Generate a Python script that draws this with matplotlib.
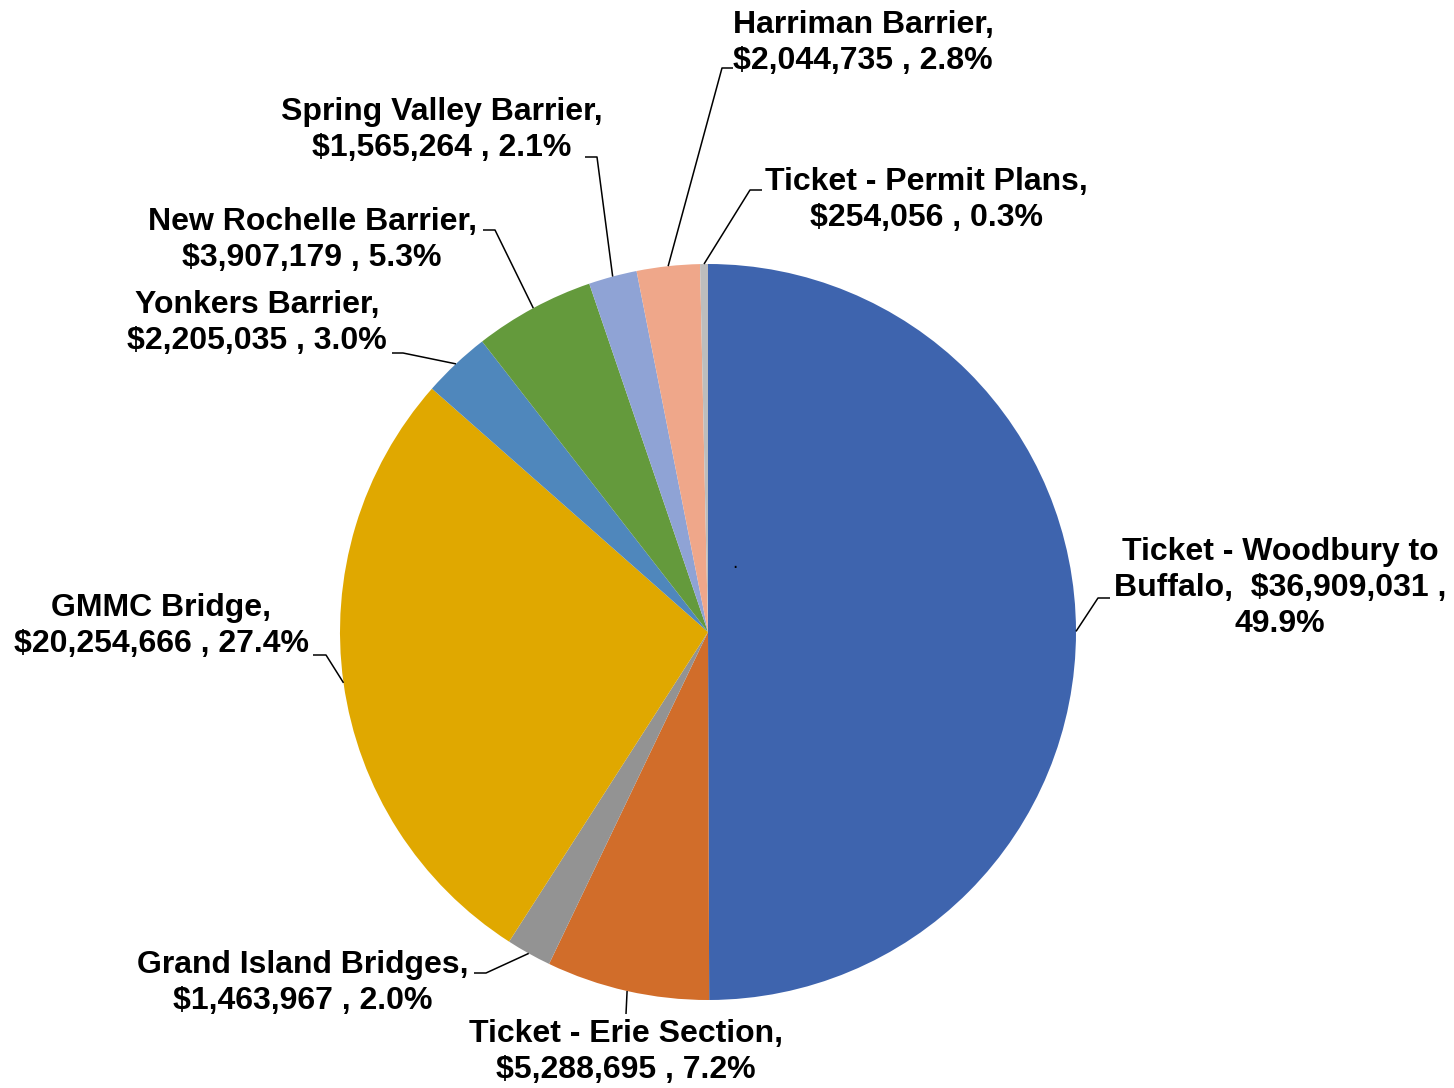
import matplotlib
matplotlib.use("Agg")
import matplotlib.pyplot as plt
import numpy as np

# ---- data ----
categories = ["Ticket - Woodbury to\nBuffalo,", "Ticket - Erie Section,", "Grand Island Bridges,",
              "GMMC Bridge,", "Yonkers Barrier,", "New Rochelle Barrier,",
              "Spring Valley Barrier,", "Harriman Barrier,", "Ticket - Permit Plans,"]
values = [36909031, 5288695, 1463967, 20254666, 2205035, 3907179, 1565264, 2044735, 254056]
percent_labels = ["49.9%", "7.2%", "2.0%", "27.4%", "3.0%", "5.3%", "2.1%", "2.8%", "0.3%"]
colors = ["#3E64AE", "#D16D2A", "#939393", "#E0A800", "#4F87BC", "#649A3C",
          "#8FA3D5", "#EFA78A", "#BDBDBD"]

W, H = 1454, 1088
fig = plt.figure(figsize=(W / 100, H / 100), dpi=100)
cx, cy, R = 708, 632, 368
ax = fig.add_axes([(cx - R) / W, (H - cy - R) / H, 2 * R / W, 2 * R / H])

wedges, _ = ax.pie(values, colors=colors, startangle=90, counterclock=False,
                   radius=1, wedgeprops=dict(linewidth=0))
ax.set_xlim(-1, 1)
ax.set_ylim(-1, 1)
ax.set_aspect("equal")
ax.axis("off")


def px(x, y):
    return ((x - cx) / R, (cy - y) / R)


# label layout (pixel positions): text centre, elbow point, text-side end
layout = [
    ((1280, 588), (1098, 598), (1110, 598)),
    ((626, 1052), (626, 1014), (626, 1014)),
    ((303, 983), (486, 973), (474, 973)),
    ((161, 626), (326, 655), (313, 655)),
    ((257, 323), (403, 353), (392, 353)),
    ((312, 240), (495, 230), (483, 230)),
    ((442, 130), (597, 157), (585, 157)),
    ((863, 43), (722, 68), (733, 68)),
    ((926, 200), (750, 190), (762, 190)),
]

for i, w in enumerate(wedges):
    mid = np.deg2rad((w.theta1 + w.theta2) / 2)
    ex, ey = np.cos(mid), np.sin(mid)
    (tx, ty), elbow, end = layout[i]
    bx, by = px(*elbow)
    qx, qy = px(*end)
    ax.plot([ex, bx, qx], [ey, by, qy], color="black", lw=1.1, clip_on=False,
            solid_capstyle="butt")
    label = f"{categories[i]}  ${values[i]:,} ,\n{percent_labels[i]}" if i == 0 else \
        f"{categories[i]}\n${values[i]:,} , {percent_labels[i]}"
    lx, ly = px(tx, ty)
    ax.text(lx, ly, label, ha="center", va="center", multialignment="center",
            fontsize=23, fontweight="bold", family="Liberation Sans", color="black",
            linespacing=1.25)

# tiny stray dot in the reference
fig.text(735 / W, 1 - 568 / H, "\u00b7", fontsize=12, ha="center", va="center", color="black")

fig.savefig("out.png", dpi=100, facecolor="white")
